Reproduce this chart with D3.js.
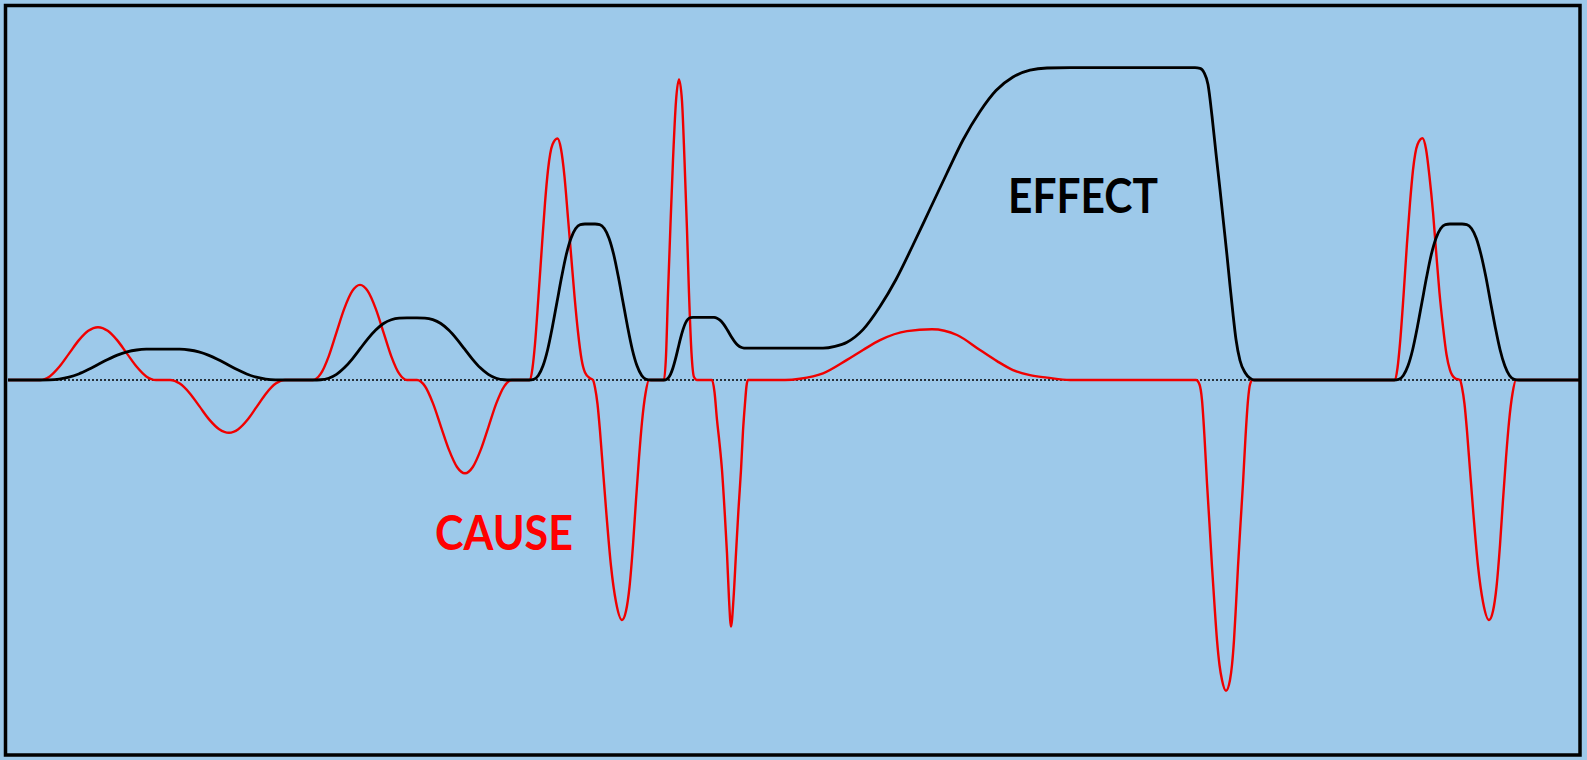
<!DOCTYPE html>
<html>
<head>
<meta charset="utf-8">
<script src="https://cdn.jsdelivr.net/npm/d3@7/dist/d3.min.js"></script>
<style>
  html, body { margin: 0; padding: 0; background: #9dc9ea; overflow: hidden; }
  svg { display: block; }
</style>
</head>
<body>
<svg id="chart" width="1587" height="760"></svg>
<script>
// ---- data (time units, signal units; zero line = 0) ----
const causeTime = [
  0.8, 4.0, 4.97, 5.93, 6.9, 7.87, 8.83, 9.8, 10.77, 11.73, 12.7, 13.67, 14.63, 15.6,
  17.0, 17.98, 18.97, 19.95, 20.93, 21.92, 22.9, 23.83, 24.77, 25.7, 26.63, 27.57, 28.5,
  31.3, 32.08, 32.87, 33.65, 34.43, 35.22, 36.0, 36.78, 37.57, 38.35, 39.13, 39.92, 40.7,
  41.7, 42.5, 43.3, 44.1, 44.9, 45.7, 46.5, 47.28, 48.07, 48.85, 49.63, 50.42, 51.2,
  53.0, 53.25, 53.5, 53.85, 54.2, 54.5, 54.8, 55.25, 55.75, 56.1, 56.45, 56.8, 57.1, 57.45, 57.8, 58.15, 58.5, 59.0,
  59.3, 59.5, 59.75, 60.0, 60.3, 60.65, 61.1, 61.6, 62.2, 62.6, 62.95, 63.3, 63.6, 63.9, 64.2, 64.55, 64.9,
  66.4, 66.6, 66.8, 67.05, 67.3, 67.6, 67.9, 68.2, 68.45, 68.7, 68.9, 69.15, 69.4, 69.7,
  71.2, 71.45, 71.7, 71.95, 72.2, 72.45, 72.7, 72.9, 73.1, 73.35, 73.6, 73.85, 74.1, 74.3, 74.5, 74.65, 74.8,
  78.5, 80.0, 82.3, 84.7, 86.3, 88.0, 90.7, 93.2, 95.7, 98.0, 99.7, 101.3, 103.0, 104.7, 107.0,
  119.6, 119.95, 120.2, 120.45, 120.7, 120.95, 121.2, 121.45, 121.7, 121.95, 122.2, 122.6, 123.0, 123.2, 123.4, 123.6, 123.8, 124.05, 124.3, 124.55, 124.8, 125.0, 125.25,
  139.5, 139.75, 140.0, 140.35, 140.7, 141.0, 141.3, 141.75, 142.25, 142.6, 142.95, 143.3, 143.6, 143.95, 144.3, 144.65, 145.0, 145.5,
  146.0, 146.2, 146.45, 146.7, 147.0, 147.35, 147.8, 148.3, 148.9, 149.3, 149.65, 150.0, 150.3, 150.6, 150.9, 151.25, 151.6,
  158.0];
const causeValue = [
  0, 0, 1.2, 4.4, 8.8, 13.2, 16.4, 17.6, 16.4, 13.2, 8.8, 4.4, 1.2, 0,
  0, -1.2, -4.4, -8.8, -13.2, -16.4, -17.6, -16.4, -13.2, -8.8, -4.4, -1.2, 0,
  0, 2.1, 7.9, 15.9, 23.8, 29.6, 31.7, 29.6, 23.8, 15.9, 7.9, 2.1, 0,
  0, -2.1, -7.8, -15.6, -23.3, -29.0, -31.1, -29.0, -23.3, -15.6, -7.8, -2.1, 0,
  0, 4, 12, 28, 45, 59, 70, 78.5, 80.5, 77, 67.8, 54, 42, 28, 16, 7, 2.5, 0.6,
  0, -2.5, -8, -17, -30, -45, -62, -74, -80, -77, -69, -55, -40, -26, -14, -4.5, 0,
  0, 8, 28.9, 52, 73.3, 93, 100.2, 93, 73.3, 50, 28.9, 9, 1, 0,
  0, -4, -13.3, -21, -30, -43, -57.8, -73, -82.2, -73, -57.8, -43, -30, -17, -7.8, -2, 0,
  0, 0.4, 2.2, 6.7, 10, 13.3, 16.3, 16.9, 15, 10, 6.3, 3.3, 1.6, 0.8, 0,
  0, -1.5, -6.7, -19, -34.4, -48, -62.2, -75, -86.7, -95, -100, -103.6, -100, -95, -86.7, -75, -62.2, -48, -34.4, -19, -6.7, -1.5, 0,
  0, 4, 12.2, 28, 45.6, 59, 70, 78.5, 80.6, 77, 67.8, 56, 43.3, 29, 17.8, 8.5, 3.3, 0.6,
  0, -2.5, -8, -17, -30, -45, -62, -74, -80, -77, -69, -55, -40, -26, -14, -4.5, 0,
  0];

const effectTime = [
  0.8,
  4.0, 4.97, 5.93, 6.9, 7.87, 8.83, 9.8, 10.77, 11.73, 12.7, 13.67, 14.63, 15.6,
  17.0, 17.96, 18.92, 19.88, 20.83, 21.79, 22.75, 23.71, 24.67, 25.63, 26.58, 27.54, 28.5,
  31.3, 32.08, 32.87, 33.65, 34.43, 35.22, 36.0, 36.78, 37.57, 38.35, 39.13, 39.92, 40.7,
  41.7, 42.49, 43.28, 44.08, 44.87, 45.66, 46.45, 47.24, 48.03, 48.83, 49.62, 50.41, 51.2,
  52.9, 53.37, 53.83, 54.3, 54.77, 55.23, 55.7, 56.17, 56.63, 57.1, 57.57, 58.03, 58.5,
  59.5, 59.97, 60.43, 60.9, 61.37, 61.83, 62.3, 62.77, 63.23, 63.7, 64.17, 64.63, 65.1,
  66.3, 66.55, 66.8, 67.05, 67.3, 67.55, 67.8, 68.05, 68.3, 68.55, 68.8, 69.05, 69.3,
  71.1, 71.4, 71.7, 72.0, 72.3, 72.6, 72.9, 73.2, 73.5, 73.8, 74.1, 74.4, 74.7,
  82.3, 83.5, 84.7, 86.3, 88.0, 89.6, 91.3, 93.0, 94.7, 96.3, 98.0, 99.6, 101.3, 103.0, 104.7, 107.0, 119.5,
  120.0, 120.4, 120.8, 121.2, 121.6, 122.0, 122.35, 122.7, 123.0, 123.3, 123.6, 124.0, 124.5, 125.0, 125.4,
  139.4, 139.87, 140.33, 140.8, 141.27, 141.73, 142.2, 142.67, 143.13, 143.6, 144.07, 144.53, 145.0,
  146.2, 146.68, 147.15, 147.63, 148.1, 148.58, 149.05, 149.53, 150.0, 150.48, 150.95, 151.43, 151.9,
  158.0];
const effectValue = [
  0,
  0, 0.04, 0.3, 0.94, 2.01, 3.47, 5.15, 6.83, 8.29, 9.36, 10.0, 10.26, 10.3,
  10.3, 10.26, 10.0, 9.36, 8.29, 6.83, 5.15, 3.47, 2.01, 0.94, 0.3, 0.04, 0,
  0, 0.08, 0.6, 1.88, 4.05, 6.98, 10.35, 13.72, 16.65, 18.82, 20.1, 20.62, 20.7,
  20.7, 20.62, 20.1, 18.82, 16.65, 13.72, 10.35, 6.98, 4.05, 1.88, 0.6, 0.08, 0,
  0, 0.19, 1.5, 4.72, 10.17, 17.53, 26, 34.47, 41.83, 47.28, 50.5, 51.81, 52,
  52, 51.81, 50.5, 47.28, 41.83, 34.47, 26, 17.53, 10.17, 4.72, 1.5, 0.19, 0,
  0, 0.08, 0.6, 1.9, 4.09, 7.05, 10.45, 13.85, 16.81, 19.0, 20.3, 20.82, 20.9,
  20.9, 20.86, 20.6, 19.96, 18.89, 17.43, 15.75, 14.07, 12.61, 11.54, 10.9, 10.64, 10.6,
  10.6, 11.2, 12.6, 16.8, 24.5, 33.5, 45, 57, 69, 80, 89.5, 96.5, 101, 103.3, 104, 104.1, 104.1,
  103.9, 102.5, 98.5, 88, 75.5, 63.5, 52.5, 41.5, 31.5, 22, 13.5, 6.5, 2.5, 0.6, 0,
  0, 0.19, 1.5, 4.72, 10.17, 17.53, 26, 34.47, 41.83, 47.28, 50.5, 51.81, 52,
  52, 51.81, 50.5, 47.28, 41.83, 34.47, 26, 17.53, 10.17, 4.72, 1.5, 0.19, 0,
  0];

const labelText = ["CAUSE", "EFFECT"];
const labelTime = [43.5, 100.8];
const labelValue = [-56.7, 55.8];
const labelWidth = [138, 150];
const labelColor = ["#ff0000", "#000000"];

// ---- layout ----
const W = 1587, H = 760;
const svg = d3.select("#chart");
const x = d3.scaleLinear().domain([0, 158.7]).range([0, W]);
const y = d3.scaleLinear().domain([-110, 110]).range([710, 50]);

svg.append("rect").attr("x", 0).attr("y", 0).attr("width", W).attr("height", H).attr("fill", "#9dc9ea");

// zero reference line
svg.append("line")
  .attr("x1", x(0.8)).attr("x2", x(158.0))
  .attr("y1", y(0)).attr("y2", y(0))
  .attr("stroke", "#000").attr("stroke-width", 1.6)
  .attr("stroke-dasharray", "2,2");

const line = d3.line().x(d => x(d[0])).y(d => y(d[1])).curve(d3.curveMonotoneX);
const cause = d3.zip(causeTime, causeValue);
const effect = d3.zip(effectTime, effectValue);

svg.append("path").datum(cause).attr("d", line)
  .attr("fill", "none").attr("stroke", "#f00000").attr("stroke-width", 2.4)
  .attr("stroke-linejoin", "round");
svg.append("path").datum(effect).attr("d", line)
  .attr("fill", "none").attr("stroke", "#000").attr("stroke-width", 2.8)
  .attr("stroke-linejoin", "round");

// labels
svg.selectAll("text.lbl").data(d3.range(labelText.length)).enter().append("text")
  .attr("class", "lbl")
  .attr("x", i => x(labelTime[i]))
  .attr("y", i => y(labelValue[i]))
  .attr("fill", i => labelColor[i])
  .attr("font-family", "Lato, 'Open Sans', sans-serif")
  .attr("font-weight", "bold")
  .attr("font-size", 47)
  .attr("textLength", i => labelWidth[i])
  .attr("lengthAdjust", "spacingAndGlyphs")
  .text(i => labelText[i]);

// frame
svg.append("rect").attr("x", 5.5).attr("y", 5.5).attr("width", 1574.5).attr("height", 749.5)
  .attr("fill", "none").attr("stroke", "#000").attr("stroke-width", 3.5);
</script>
</body>
</html>
